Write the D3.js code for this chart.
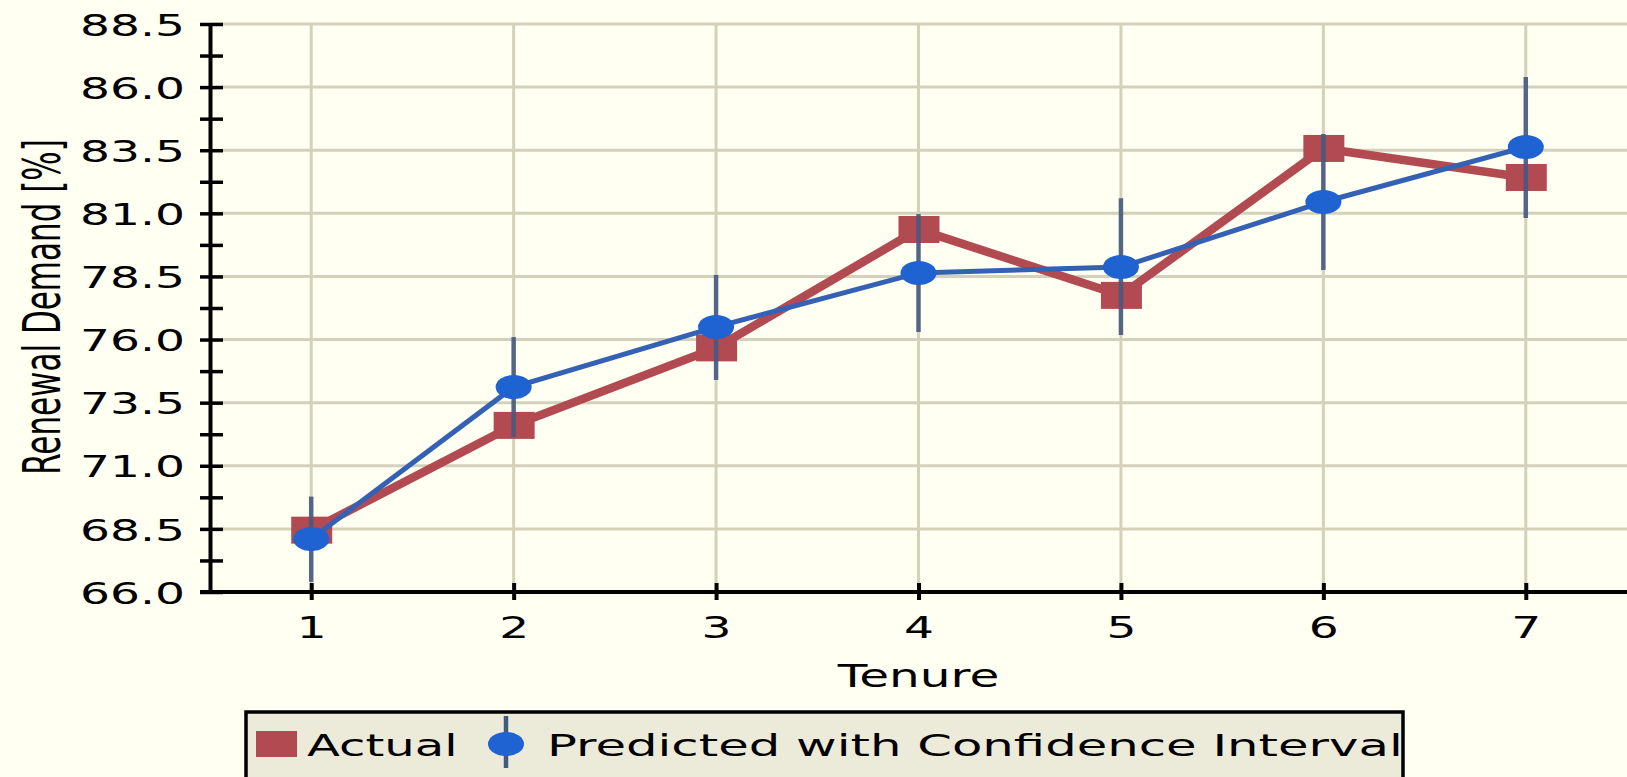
<!DOCTYPE html>
<html>
<head>
<meta charset="utf-8">
<script src="https://cdn.jsdelivr.net/npm/d3@7"></script>
<style>
  html, body { margin: 0; padding: 0; background: #fffff2; overflow: hidden; }
  svg { display: block; }
  text { font-family: "DejaVu Sans", sans-serif; fill: #000; }
</style>
</head>
<body>
<svg id="chart" width="1627" height="777"></svg>
<script>
// ---- data ----
const tenure = [1, 2, 3, 4, 5, 6, 7];
const actual = [68.45, 72.6, 75.67, 80.36, 77.75, 83.57, 82.42];
const predicted = [68.1, 74.12, 76.5, 78.64, 78.87, 81.45, 83.63];
const ciLower = [66.4, 72.14, 74.4, 76.3, 76.18, 78.76, 80.82];
const ciUpper = [69.78, 76.1, 78.56, 80.97, 81.6, 84.14, 86.4];
const yMajorTicks = [66.0, 68.5, 71.0, 73.5, 76.0, 78.5, 81.0, 83.5, 86.0, 88.5];
const yMinorTicks = [67.25, 69.75, 72.25, 74.75, 77.25, 79.75, 82.25, 84.75, 87.25];
const xLabel = "Tenure";
const yLabel = "Renewal Demand [%]";
const legendLabels = ["Actual", "Predicted with Confidence Interval"];

// ---- layout ----
const W = 1627, H = 777;
const SX = 1.52;            // horizontal stretch of the original rendering
const FONT = 31;
const plot = { left: 210, right: 1627, top: 24, bottom: 592 };
const C = {
  bg: "#fffff2", grid: "#d4d1bb", red: "#b24a52", blueLine: "#3461b3",
  blueMarker: "#1f63d2", err: "#45597f", legendBg: "#ecebd9"
};

const svg = d3.select("#chart");
svg.append("rect").attr("width", W).attr("height", H).attr("fill", C.bg);

const x = d3.scaleLinear().domain([0.5, 7.5]).range([plot.left, plot.right]);
const y = d3.scaleLinear().domain([66, 88.5]).range([plot.bottom, plot.top]);

// ---- grid ----
const grid = svg.append("g");
grid.selectAll("line.h").data(yMajorTicks).join("line")
  .attr("x1", plot.left).attr("x2", plot.right)
  .attr("y1", d => y(d)).attr("y2", d => y(d))
  .attr("stroke", C.grid).attr("stroke-width", 3);
grid.selectAll("line.v").data(tenure).join("line")
  .attr("x1", d => x(d)).attr("x2", d => x(d))
  .attr("y1", plot.top).attr("y2", plot.bottom)
  .attr("stroke", C.grid).attr("stroke-width", 3);

// ---- actual series ----
const pts = tenure.map((t, i) => ({ t, a: actual[i], p: predicted[i], lo: ciLower[i], hi: ciUpper[i] }));
const line = d3.line();
svg.append("path")
  .attr("d", line(pts.map(d => [x(d.t), y(d.a)])))
  .attr("fill", "none").attr("stroke", C.red).attr("stroke-width", 8.5)
  .attr("stroke-linejoin", "miter");
svg.append("g").selectAll("rect").data(pts).join("rect")
  .attr("x", d => x(d.t) - 20).attr("y", d => y(d.a) - 13.5)
  .attr("width", 41).attr("height", 27).attr("fill", C.red);

// ---- predicted series ----
svg.append("path")
  .attr("d", line(pts.map(d => [x(d.t), y(d.p)])))
  .attr("fill", "none").attr("stroke", C.blueLine).attr("stroke-width", 5);
svg.append("g").selectAll("line").data(pts).join("line")
  .attr("x1", d => x(d.t)).attr("x2", d => x(d.t))
  .attr("y1", d => y(d.lo)).attr("y2", d => y(d.hi))
  .attr("stroke", C.err).attr("stroke-width", 4.5).attr("stroke-opacity", 0.9);
svg.append("g").selectAll("ellipse").data(pts).join("ellipse")
  .attr("cx", d => x(d.t)).attr("cy", d => y(d.p))
  .attr("rx", 18).attr("ry", 12).attr("fill", C.blueMarker);

// ---- axes ----
const yAxis = svg.append("g").attr("transform", `translate(${plot.left},0)`)
  .call(d3.axisLeft(y).tickValues(yMajorTicks.concat(yMinorTicks)).tickSize(0).tickSizeOuter(0)
    .tickFormat(d => yMajorTicks.includes(d) ? d3.format(".1f")(d) : ""));
yAxis.select(".domain").attr("stroke", "#000").attr("stroke-width", 4);
yAxis.selectAll(".tick line").attr("x1", -10).attr("x2", 13).attr("stroke", "#000").attr("stroke-width", 3.5);
yAxis.selectAll(".tick text")
  .attr("x", 0).attr("dy", "0.36em").attr("text-anchor", "end")
  .attr("transform", `translate(-25,0) scale(${SX},1)`)
  .style("font-size", FONT + "px").style("font-family", "DejaVu Sans");

const xAxis = svg.append("g").attr("transform", `translate(0,${plot.bottom})`)
  .call(d3.axisBottom(x).tickValues(tenure).tickSize(0).tickSizeOuter(0).tickFormat(d3.format("d")));
xAxis.select(".domain").attr("stroke", "#000").attr("stroke-width", 4)
  .attr("d", `M${plot.left - 10},0H${plot.right}`);
xAxis.selectAll(".tick line").attr("y1", -9).attr("y2", 8).attr("stroke", "#000").attr("stroke-width", 4);
xAxis.selectAll(".tick text")
  .attr("y", 0).attr("dy", "0.36em").attr("text-anchor", "middle")
  .attr("transform", `translate(0,35) scale(${SX},1)`)
  .style("font-size", FONT + "px").style("font-family", "DejaVu Sans");

// ---- axis titles ----
svg.append("text")
  .attr("transform", `translate(${x(4)},676) scale(${SX * 1.03},1)`)
  .attr("text-anchor", "middle").attr("dy", "0.36em")
  .style("font-size", FONT + "px").text(xLabel);
svg.append("text")
  .attr("transform", `translate(42,307) scale(${SX * 1.08},1) rotate(-90)`)
  .attr("text-anchor", "middle").attr("dy", "0.36em")
  .style("font-size", FONT + "px").text(yLabel);

// ---- legend ----
const lg = svg.append("g");
lg.append("rect").attr("x", 246).attr("y", 712).attr("width", 1157).attr("height", 90)
  .attr("fill", C.legendBg).attr("stroke", "#000").attr("stroke-width", 3.5);
lg.append("rect").attr("x", 256).attr("y", 731).attr("width", 41).attr("height", 26).attr("fill", C.red);
lg.append("text").attr("transform", `translate(307,745) scale(${SX * 1.02},1)`).attr("dy", "0.36em")
  .style("font-size", FONT + "px").text(legendLabels[0]);
lg.append("line").attr("x1", 506).attr("x2", 506).attr("y1", 716).attr("y2", 768)
  .attr("stroke", C.err).attr("stroke-width", 4.5);
lg.append("ellipse").attr("cx", 506).attr("cy", 744).attr("rx", 18).attr("ry", 12).attr("fill", C.blueMarker);
lg.append("text").attr("transform", `translate(547,745) scale(${SX * 1.055},1)`).attr("dy", "0.36em")
  .style("font-size", FONT + "px").text(legendLabels[1]);
</script>
</body>
</html>
